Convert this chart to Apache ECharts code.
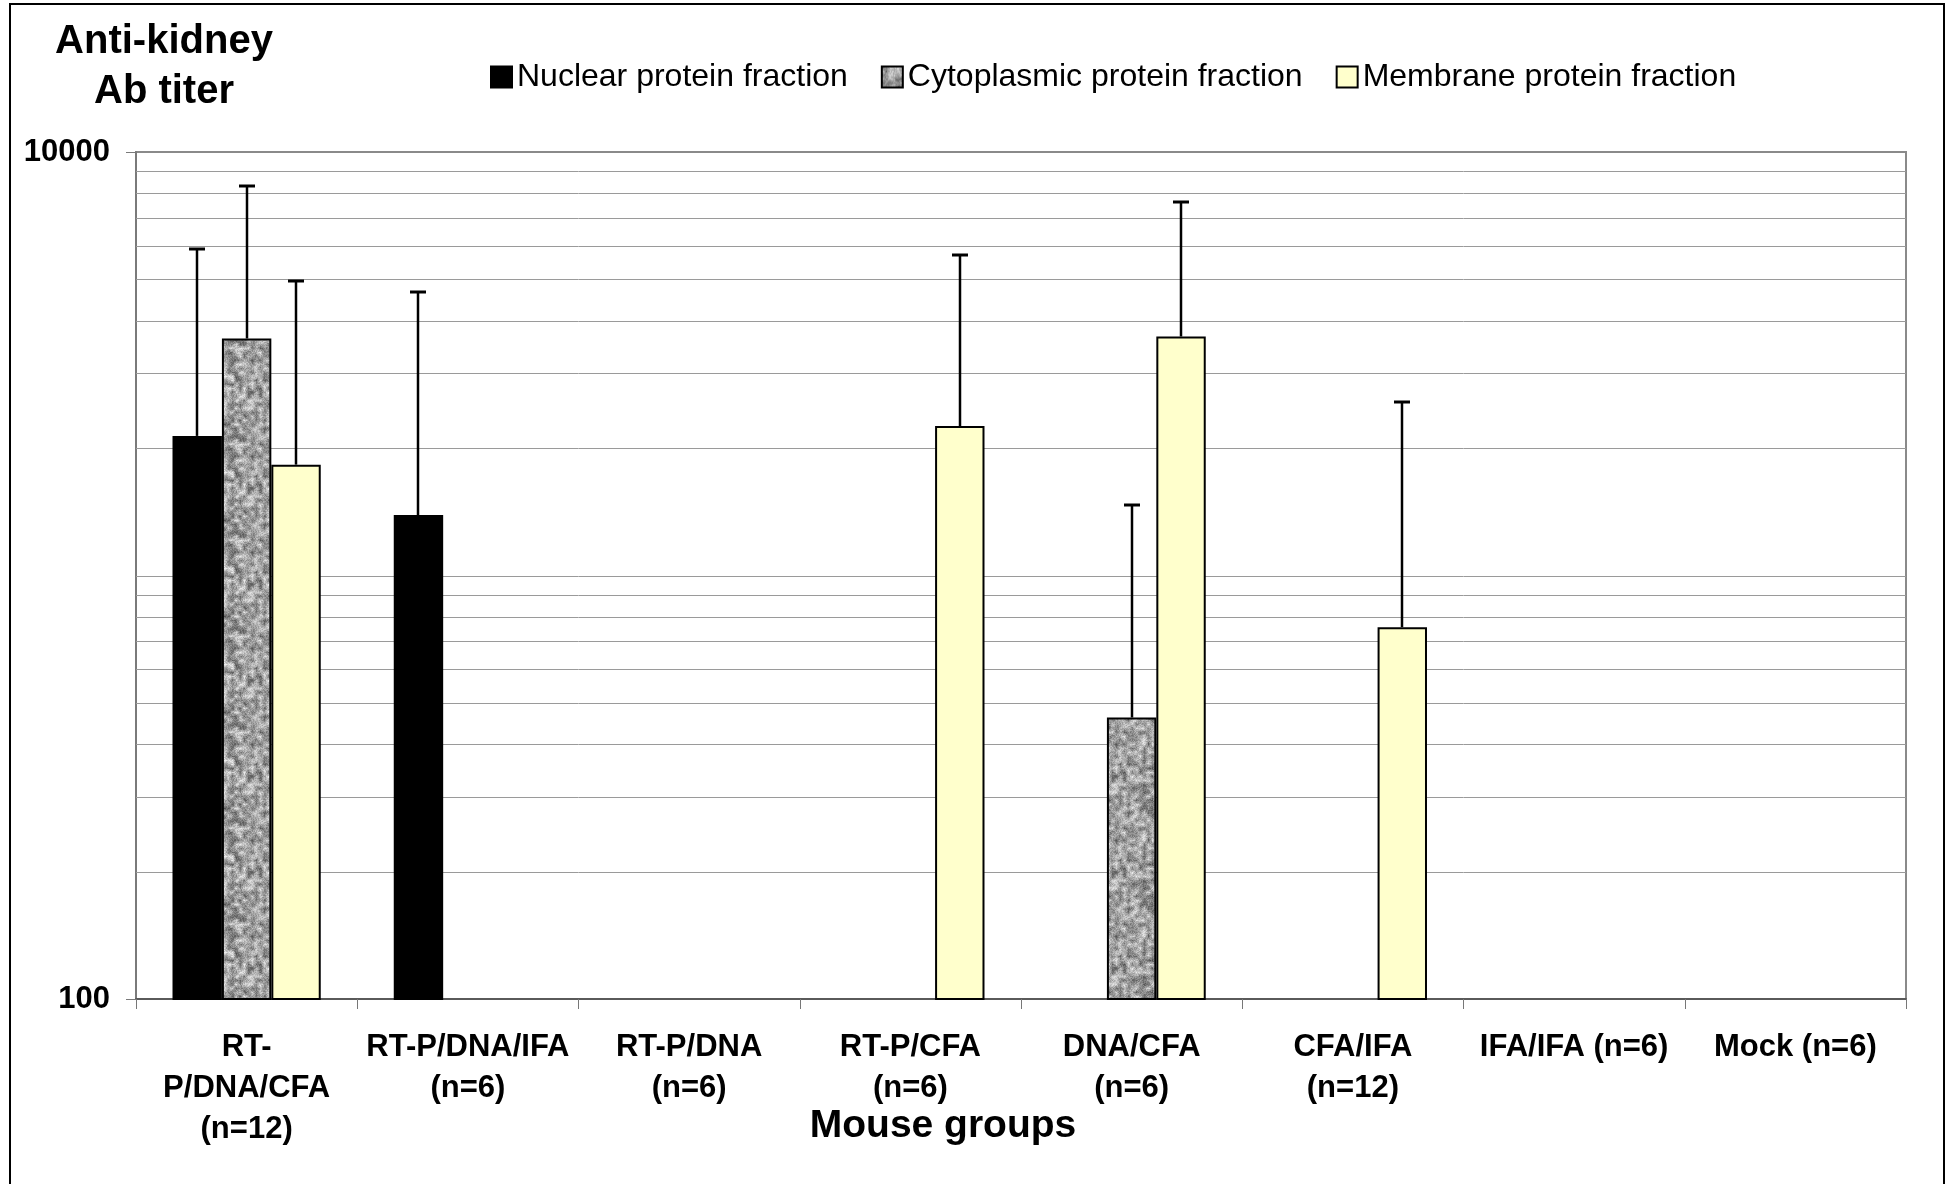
<!DOCTYPE html>
<html><head><meta charset="utf-8">
<script src="https://cdn.jsdelivr.net/npm/echarts@6/dist/echarts.min.js"></script>
<style>html,body{margin:0;padding:0;background:#fff}#c{width:1955px;height:1184px}</style>
</head><body><div id="c"></div>
<script>
// ---------- data ----------
const categories = ['RT-\nP/DNA/CFA\n(n=12)', 'RT-P/DNA/IFA\n(n=6)', 'RT-P/DNA\n(n=6)', 'RT-P/CFA\n(n=6)', 'DNA/CFA\n(n=6)', 'CFA/IFA\n(n=12)', 'IFA/IFA (n=6)', 'Mock (n=6)'];
const seriesNames = ['Nuclear protein fraction', 'Cytoplasmic protein fraction', 'Membrane protein fraction'];
const nuclearMean   = [2136, 1389, null, null, null, null, null, null];
const nuclearUpper  = [5899, 4670, null, null, null, null, null, null];
const cytoMean      = [3628, null, null, null, 462, null, null, null];
const cytoUpper     = [8313, null, null, null, 1468, null, null, null];
const membraneMean  = [1827, null, null, 2254, 3667, 755, null, null];
const membraneUpper = [4972, null, null, 5697, 7609, 2563, null, null];
const yMin = 100, yMax = 10000;
const gridValues = [200, 300, 400, 500, 600, 700, 800, 900, 1000, 2000, 3000, 4000, 5000, 6000, 7000, 8000, 9000];
const yTitle = 'Anti-kidney\nAb titer';
const xTitle = 'Mouse groups';

// ---------- styles ----------
const FONT = 'Liberation Sans, Arial, sans-serif';
const CAT_GAP = 0.33;

function makeGranite() {
  const W = 96, H = 96, cell = 4;
  const cv = document.createElement('canvas');
  cv.width = W; cv.height = H;
  const ctx = cv.getContext('2d');
  const img = ctx.createImageData(W, H);
  const hash = (x, y) => {
    const s = Math.sin(x * 127.1 + y * 311.7) * 43758.5453;
    return s - Math.floor(s);
  };
  const gw = W / cell, gh = H / cell;
  const coarse = (x, y) => hash(((x % gw) + gw) % gw, ((y % gh) + gh) % gh);
  for (let y = 0; y < H; y++) {
    for (let x = 0; x < W; x++) {
      const fx = x / cell, fy = y / cell;
      const x0 = Math.floor(fx), y0 = Math.floor(fy);
      const tx = fx - x0, ty = fy - y0;
      const a = coarse(x0, y0), b = coarse(x0 + 1, y0), c = coarse(x0, y0 + 1), d = coarse(x0 + 1, y0 + 1);
      const v = (a * (1 - tx) + b * tx) * (1 - ty) + (c * (1 - tx) + d * tx) * ty;
      const f = hash(x + 0.37, y + 0.71);
      let g = 95 + v * 130 + (f - 0.5) * 50;
      g = Math.max(60, Math.min(235, g));
      const i = (y * W + x) * 4;
      img.data[i] = g; img.data[i + 1] = g; img.data[i + 2] = g; img.data[i + 3] = 255;
    }
  }
  ctx.putImageData(img, 0, 0);
  return { image: cv, repeat: 'repeat' };
}
const granite = makeGranite();
const fills = ['#000000', granite, '#FFFFCC'];

function barSeries(idx, means) {
  return {
    type: 'bar', name: seriesNames[idx], data: means,
    barGap: '0%', barCategoryGap: (CAT_GAP * 100) + '%',
    itemStyle: { color: fills[idx], borderColor: '#000', borderWidth: 2 },
    z: 2, silent: true
  };
}

function errorSeries(idx, means, uppers) {
  const data = [];
  means.forEach((m, i) => { if (m != null && uppers[i] != null) data.push([i, m, uppers[i]]); });
  return {
    type: 'custom', name: seriesNames[idx] + ' SD', z: 4, silent: true,
    encode: { x: 0, y: [1, 2] },
    data: data,
    renderItem: function (params, api) {
      const i = api.value(0);
      const p0 = api.coord([i, api.value(1)]);
      const p1 = api.coord([i, api.value(2)]);
      const band = api.size([1, 0], [i, api.value(1)])[0];
      const bw = band * (1 - CAT_GAP) / 3;
      const cx = Math.round(p0[0] + (idx - 1) * bw);
      const yt = Math.round(p1[1]);
      return {
        type: 'group',
        children: [
          { type: 'line', shape: { x1: cx, y1: p0[1], x2: cx, y2: yt }, style: { stroke: '#000', lineWidth: 2.5 } },
          { type: 'line', shape: { x1: cx - 8, y1: yt, x2: cx + 8, y2: yt }, style: { stroke: '#000', lineWidth: 3 } }
        ]
      };
    }
  };
}

const gridLineSeries = {
  type: 'custom', name: 'gridlines', z: 1, silent: true,
  encode: { x: 0, y: 1 },
  data: gridValues.map(v => [0, v]),
  renderItem: function (params, api) {
    const y = Math.round(api.coord([0, api.value(1)])[1]) + 0.5;
    const cs = params.coordSys;
    return { type: 'line', shape: { x1: cs.x, y1: y, x2: cs.x + cs.width, y2: y }, style: { stroke: '#9a9a9a', lineWidth: 1 } };
  }
};

const chart = echarts.init(document.getElementById('c'), null, { renderer: 'canvas' });
chart.setOption({
  backgroundColor: '#fff',
  animation: false,
  textStyle: { fontFamily: FONT },
  grid: { left: 136, right: 49, top: 152, bottom: 185, show: true, borderColor: '#8a8a8a', borderWidth: 2, backgroundColor: 'transparent' },
  legend: {
    data: seriesNames, left: 490, top: 61, padding: 0,
    icon: 'rect', itemWidth: 21, itemHeight: 21, itemGap: 33,
    textStyle: { fontSize: 32, color: '#000', fontFamily: FONT, lineHeight: 32 },
    selectedMode: false
  },
  xAxis: {
    type: 'category', data: categories,
    axisLine: { lineStyle: { color: '#5a5a5a', width: 2 } },
    axisTick: { show: true, length: 10, lineStyle: { color: '#777', width: 1 } },
    axisLabel: { interval: 0, margin: 28, fontSize: 31, fontWeight: 'bold', color: '#000', lineHeight: 41, fontFamily: FONT },
    splitLine: { show: false }
  },
  yAxis: {
    type: 'log', logBase: 100, min: yMin, max: yMax,
    axisLine: { show: true, lineStyle: { color: '#7a7a7a', width: 2 } },
    axisTick: { show: true, length: 10, lineStyle: { color: '#7a7a7a', width: 1 } },
    axisLabel: { fontSize: 31, fontWeight: 'bold', color: '#000', margin: 26, fontFamily: FONT, formatter: v => String(Math.round(v)) },
    splitLine: { show: false },
    minorTick: { show: false }
  },
  graphic: [
    { type: 'rect', shape: { x: 10, y: 4, width: 1934, height: 1220 }, style: { fill: 'none', stroke: '#000', lineWidth: 2 }, silent: true, z: 100 },
    { type: 'text', x: 164, y: 17, style: { text: yTitle, align: 'center', verticalAlign: 'top', fontSize: 40, fontWeight: 'bold', lineHeight: 50, fill: '#000', fontFamily: FONT }, z: 100 },
    { type: 'text', x: 943, y: 1126, style: { text: xTitle, align: 'center', verticalAlign: 'middle', fontSize: 39, fontWeight: 'bold', fill: '#000', fontFamily: FONT }, z: 100 }
  ],
  series: [
    gridLineSeries,
    barSeries(0, nuclearMean),
    barSeries(1, cytoMean),
    barSeries(2, membraneMean),
    errorSeries(0, nuclearMean, nuclearUpper),
    errorSeries(1, cytoMean, cytoUpper),
    errorSeries(2, membraneMean, membraneUpper)
  ]
});
</script>
</body></html>
